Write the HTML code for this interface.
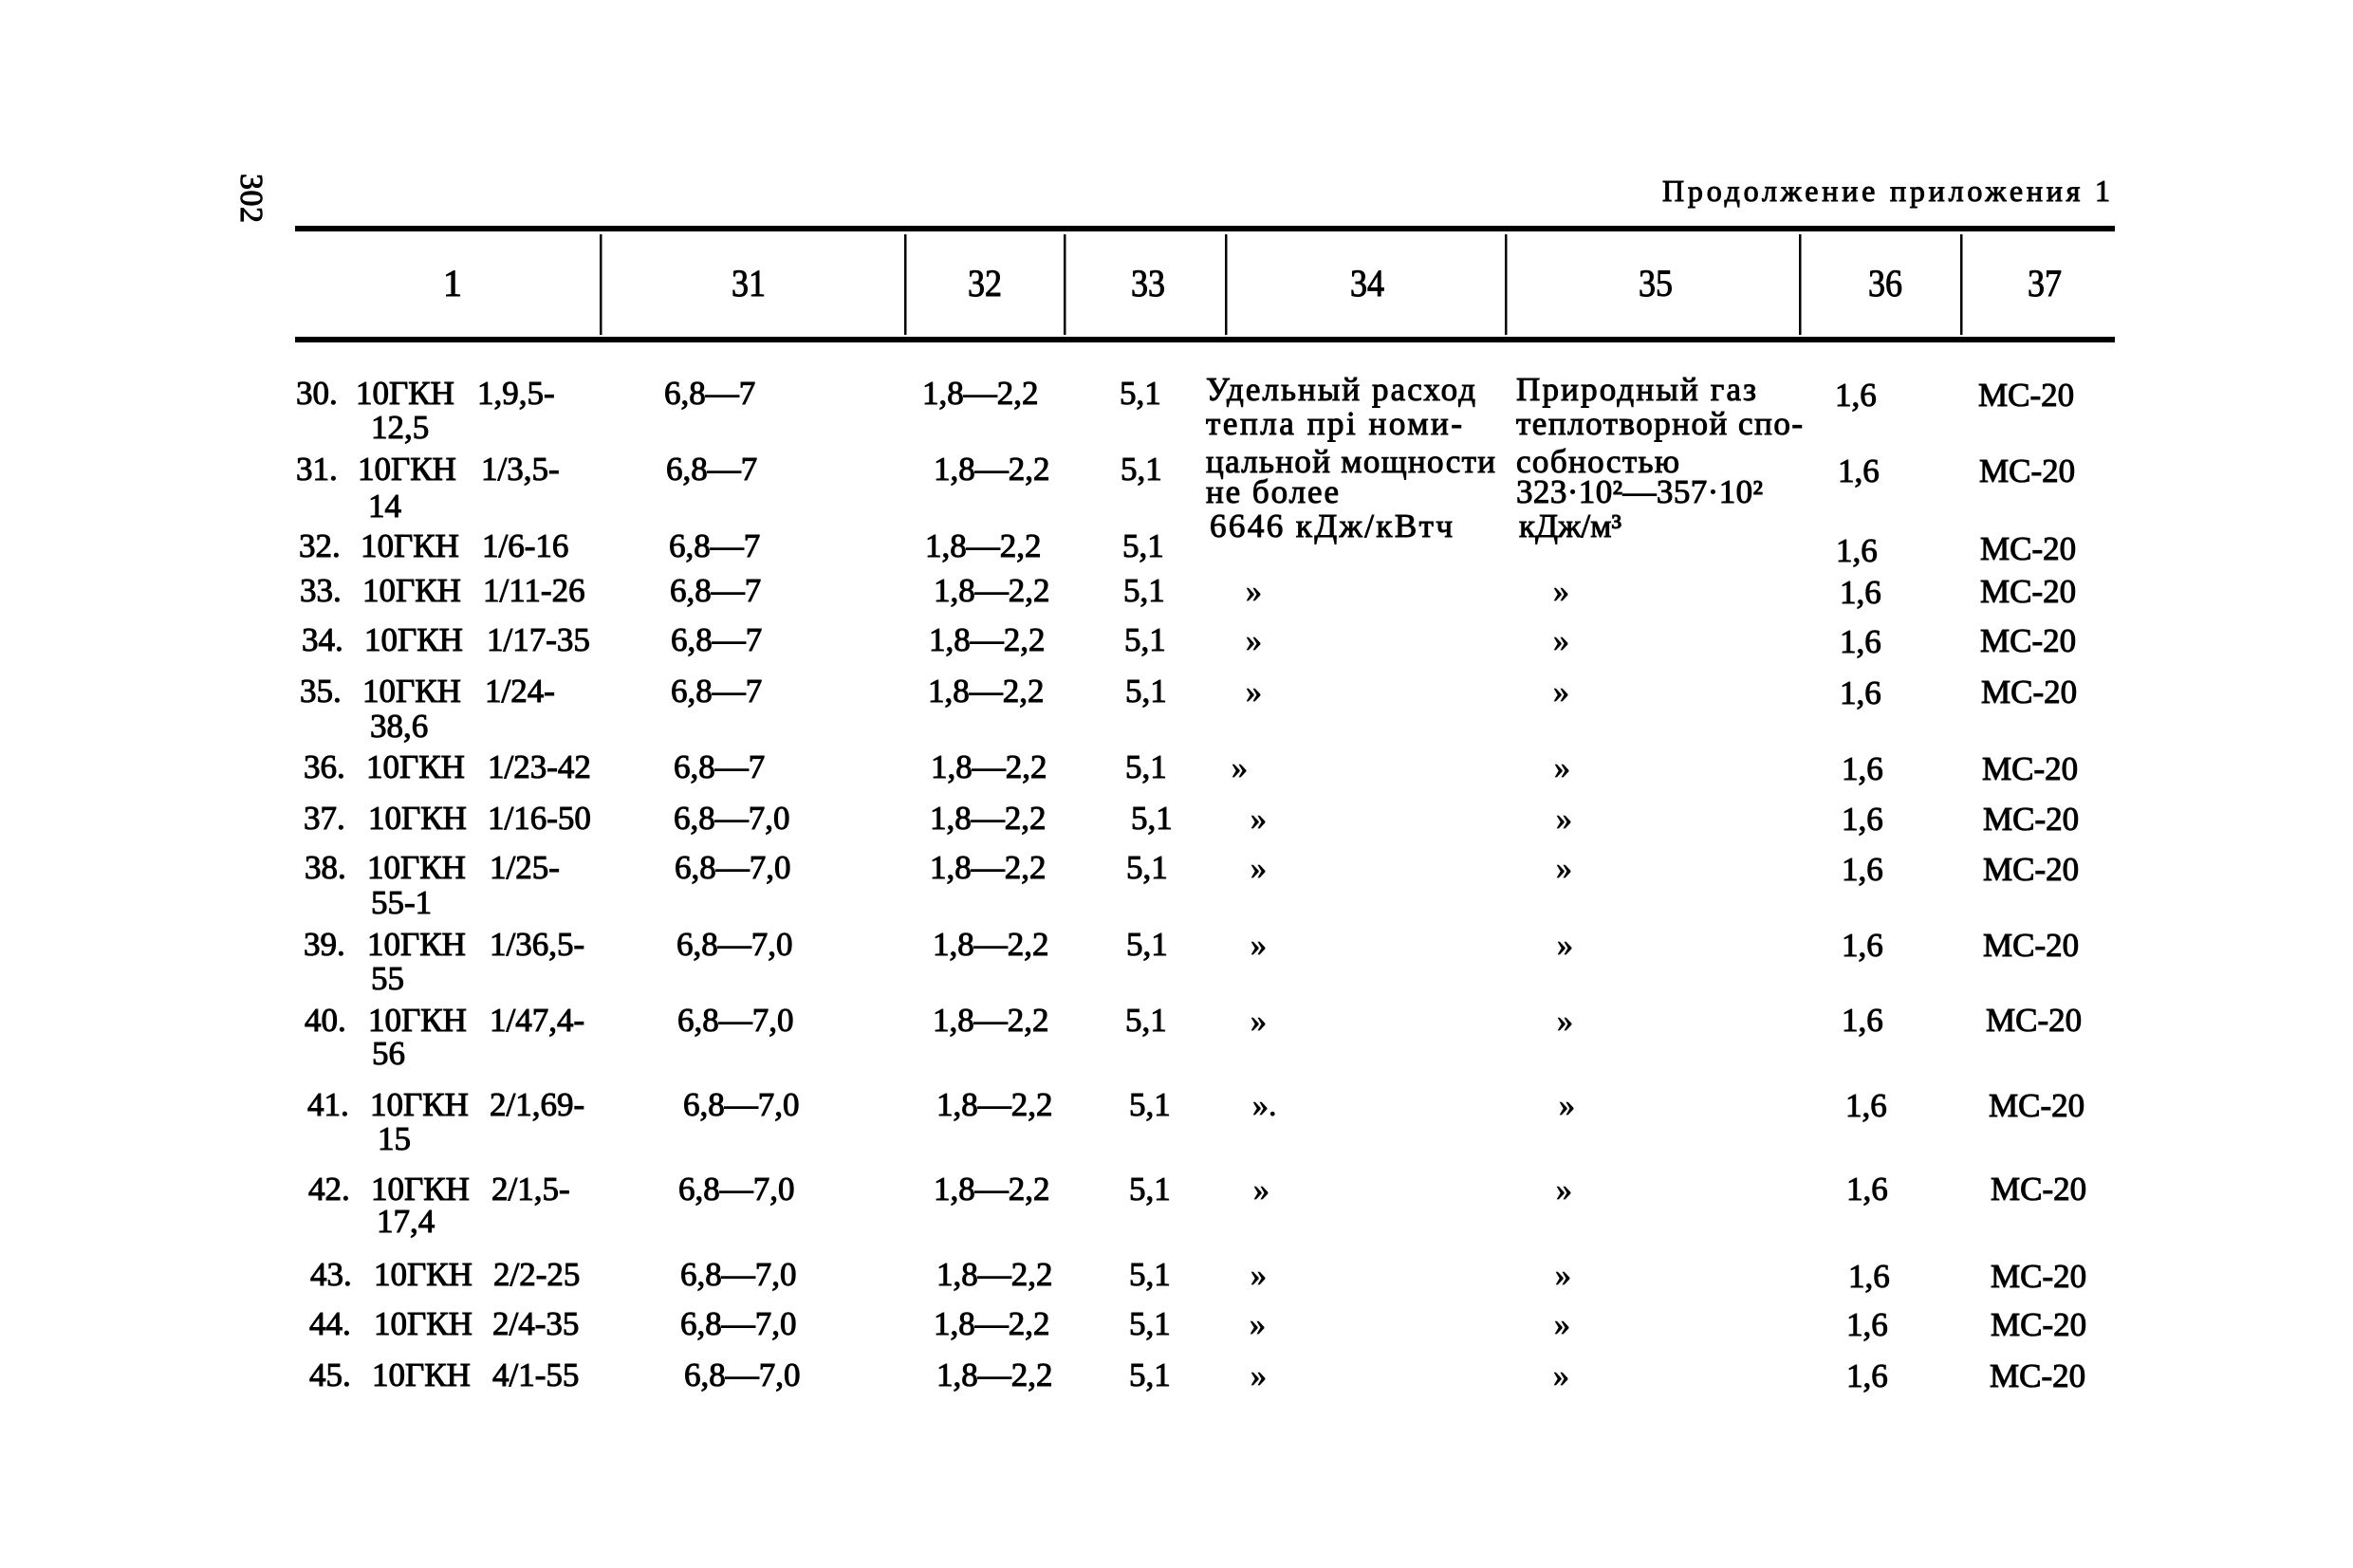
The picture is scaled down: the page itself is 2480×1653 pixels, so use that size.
<!DOCTYPE html>
<html>
<head>
<meta charset="utf-8">
<style>
html,body{margin:0;padding:0;background:#fff;}
svg{display:block;}
text{font-family:"Liberation Serif","DejaVu Serif",serif;fill:#000;}
.b{font-size:35px;stroke:#000;stroke-width:1px;}
.h{font-size:40px;stroke:#000;stroke-width:1px;}
.d{font-size:34px;stroke:#000;stroke-width:0.8px;}
</style>
</head>
<body>
<svg width="2480" height="1653" viewBox="0 0 2480 1653" xmlns="http://www.w3.org/2000/svg">
<rect x="0" y="0" width="2480" height="1653" fill="#fff"/>

<!-- page number rotated -->
<text class="h" transform="translate(254,209) rotate(90)" text-anchor="middle" textLength="52" style="font-size:34px">302</text>

<!-- title -->
<text class="b" x="1752" y="212" textLength="472" style="font-size:32px">Продолжение приложения 1</text>

<!-- rules -->
<rect x="311" y="238" width="1918" height="6" fill="#000"/>
<rect x="311" y="355" width="1918" height="6" fill="#000"/>
<g fill="#000">
<rect x="632" y="247" width="2.5" height="106"/>
<rect x="953" y="247" width="2.5" height="106"/>
<rect x="1121" y="247" width="2.5" height="106"/>
<rect x="1291" y="247" width="2.5" height="106"/>
<rect x="1586" y="247" width="2.5" height="106"/>
<rect x="1896" y="247" width="2.5" height="106"/>
<rect x="2066" y="247" width="2.5" height="106"/>
</g>

<!-- header labels -->
<g text-anchor="middle">
<text class="h" x="477" y="312">1</text>
<text class="h" x="789" y="312" textLength="36" lengthAdjust="spacingAndGlyphs">31</text>
<text class="h" x="1038" y="312" textLength="36" lengthAdjust="spacingAndGlyphs">32</text>
<text class="h" x="1210" y="312" textLength="36" lengthAdjust="spacingAndGlyphs">33</text>
<text class="h" x="1441" y="312" textLength="36" lengthAdjust="spacingAndGlyphs">34</text>
<text class="h" x="1745" y="312" textLength="36" lengthAdjust="spacingAndGlyphs">35</text>
<text class="h" x="1987" y="312" textLength="36" lengthAdjust="spacingAndGlyphs">36</text>
<text class="h" x="2155" y="312" textLength="36" lengthAdjust="spacingAndGlyphs">37</text>
</g>

<!-- column 34 / 35 multiline text -->
<text class="b" x="1271" y="422" textLength="284">Удельный расход</text>
<text class="b" x="1271" y="458" textLength="270">тепла прі номи-</text>
<text class="b" x="1271" y="498" textLength="305">цальной мощности</text>
<text class="b" x="1271" y="530" textLength="140">не более</text>
<text class="b" x="1275" y="566" textLength="256">6646 кДж/кВтч</text>

<text class="b" x="1598" y="422" textLength="253">Природный газ</text>
<text class="b" x="1598" y="458" textLength="302">теплотворной спо-</text>
<text class="b" x="1598" y="498" textLength="172">собностью</text>
<text class="b" x="1598" y="530" textLength="260">323·10²—357·10²</text>
<text class="b" x="1601" y="566" textLength="108">кДж/м³</text>

<!-- rows -->
<g>
<!-- 30 -->
<text class="b" x="312" y="426">30.</text>
<text class="b" x="375" y="426">10ГКН</text>
<text class="b" x="503" y="426">1,9,5-</text>
<text class="b" x="391" y="462">12,5</text>
<text class="b" x="700" y="426">6,8—7</text>
<text class="b" x="972" y="426">1,8—2,2</text>
<text class="b" x="1180" y="426">5,1</text>
<text class="b" x="1934" y="428">1,6</text>
<text class="b" x="2085" y="428">МС-20</text>

<!-- 31 -->
<text class="b" x="312" y="506">31.</text>
<text class="b" x="377" y="506">10ГКН</text>
<text class="b" x="507" y="506">1/3,5-</text>
<text class="b" x="388" y="545">14</text>
<text class="b" x="702" y="506">6,8—7</text>
<text class="b" x="984" y="506">1,8—2,2</text>
<text class="b" x="1181" y="506">5,1</text>
<text class="b" x="1937" y="508">1,6</text>
<text class="b" x="2086" y="508">МС-20</text>

<!-- 32 -->
<text class="b" x="315" y="587">32.</text>
<text class="b" x="380" y="587">10ГКН</text>
<text class="b" x="508" y="587">1/6-16</text>
<text class="b" x="705" y="587">6,8—7</text>
<text class="b" x="975" y="587">1,8—2,2</text>
<text class="b" x="1183" y="587">5,1</text>
<text class="b" x="1935" y="592">1,6</text>
<text class="b" x="2087" y="590">МС-20</text>

<!-- 33 -->
<text class="b" x="316" y="634">33.</text>
<text class="b" x="382" y="634">10ГКН</text>
<text class="b" x="509" y="634">1/11-26</text>
<text class="b" x="706" y="634">6,8—7</text>
<text class="b" x="984" y="634">1,8—2,2</text>
<text class="b" x="1184" y="634">5,1</text>
<text class="d" x="1313" y="634">»</text>
<text class="d" x="1637" y="634">»</text>
<text class="b" x="1939" y="636">1,6</text>
<text class="b" x="2087" y="635">МС-20</text>

<!-- 34 -->
<text class="b" x="318" y="686">34.</text>
<text class="b" x="384" y="686">10ГКН</text>
<text class="b" x="513" y="686">1/17-35</text>
<text class="b" x="707" y="686">6,8—7</text>
<text class="b" x="979" y="686">1,8—2,2</text>
<text class="b" x="1185" y="686">5,1</text>
<text class="d" x="1313" y="686">»</text>
<text class="d" x="1637" y="686">»</text>
<text class="b" x="1939" y="688">1,6</text>
<text class="b" x="2087" y="687">МС-20</text>

<!-- 35 -->
<text class="b" x="316" y="740">35.</text>
<text class="b" x="382" y="740">10ГКН</text>
<text class="b" x="511" y="740">1/24-</text>
<text class="b" x="390" y="777">38,6</text>
<text class="b" x="707" y="740">6,8—7</text>
<text class="b" x="978" y="740">1,8—2,2</text>
<text class="b" x="1186" y="740">5,1</text>
<text class="d" x="1313" y="740">»</text>
<text class="d" x="1637" y="740">»</text>
<text class="b" x="1939" y="742">1,6</text>
<text class="b" x="2088" y="741">МС-20</text>

<!-- 36 -->
<text class="b" x="320" y="820">36.</text>
<text class="b" x="386" y="820">10ГКН</text>
<text class="b" x="514" y="820">1/23-42</text>
<text class="b" x="710" y="820">6,8—7</text>
<text class="b" x="981" y="820">1,8—2,2</text>
<text class="b" x="1186" y="820">5,1</text>
<text class="d" x="1298" y="820">»</text>
<text class="d" x="1638" y="820">»</text>
<text class="b" x="1941" y="822">1,6</text>
<text class="b" x="2089" y="822">МС-20</text>

<!-- 37 -->
<text class="b" x="320" y="874">37.</text>
<text class="b" x="388" y="874">10ГКН</text>
<text class="b" x="514" y="874">1/16-50</text>
<text class="b" x="710" y="874">6,8—7,0</text>
<text class="b" x="980" y="874">1,8—2,2</text>
<text class="b" x="1192" y="874">5,1</text>
<text class="d" x="1318" y="874">»</text>
<text class="d" x="1640" y="874">»</text>
<text class="b" x="1941" y="875">1,6</text>
<text class="b" x="2090" y="875">МС-20</text>

<!-- 38 -->
<text class="b" x="321" y="926">38.</text>
<text class="b" x="387" y="926">10ГКН</text>
<text class="b" x="516" y="926">1/25-</text>
<text class="b" x="391" y="963">55-1</text>
<text class="b" x="711" y="926">6,8—7,0</text>
<text class="b" x="980" y="926">1,8—2,2</text>
<text class="b" x="1187" y="926">5,1</text>
<text class="d" x="1318" y="926">»</text>
<text class="d" x="1640" y="926">»</text>
<text class="b" x="1941" y="928">1,6</text>
<text class="b" x="2090" y="928">МС-20</text>

<!-- 39 -->
<text class="b" x="320" y="1007">39.</text>
<text class="b" x="387" y="1007">10ГКН</text>
<text class="b" x="516" y="1007">1/36,5-</text>
<text class="b" x="391" y="1043">55</text>
<text class="b" x="713" y="1007">6,8—7,0</text>
<text class="b" x="983" y="1007">1,8—2,2</text>
<text class="b" x="1187" y="1007">5,1</text>
<text class="d" x="1318" y="1007">»</text>
<text class="d" x="1641" y="1007">»</text>
<text class="b" x="1941" y="1008">1,6</text>
<text class="b" x="2090" y="1008">МС-20</text>

<!-- 40 -->
<text class="b" x="321" y="1087">40.</text>
<text class="b" x="388" y="1087">10ГКН</text>
<text class="b" x="516" y="1087">1/47,4-</text>
<text class="b" x="392" y="1122">56</text>
<text class="b" x="714" y="1087">6,8—7,0</text>
<text class="b" x="983" y="1087">1,8—2,2</text>
<text class="b" x="1186" y="1087">5,1</text>
<text class="d" x="1318" y="1087">»</text>
<text class="d" x="1641" y="1087">»</text>
<text class="b" x="1941" y="1087">1,6</text>
<text class="b" x="2093" y="1087">МС-20</text>

<!-- 41 -->
<text class="b" x="324" y="1176">41.</text>
<text class="b" x="390" y="1176">10ГКН</text>
<text class="b" x="516" y="1176">2/1,69-</text>
<text class="b" x="398" y="1212">15</text>
<text class="b" x="720" y="1176">6,8—7,0</text>
<text class="b" x="987" y="1176">1,8—2,2</text>
<text class="b" x="1190" y="1176">5,1</text>
<text class="d" x="1320" y="1176">».</text>
<text class="d" x="1643" y="1176">»</text>
<text class="b" x="1945" y="1177">1,6</text>
<text class="b" x="2096" y="1177">МС-20</text>

<!-- 42 -->
<text class="b" x="325" y="1265">42.</text>
<text class="b" x="391" y="1265">10ГКН</text>
<text class="b" x="518" y="1265">2/1,5-</text>
<text class="b" x="397" y="1299">17,4</text>
<text class="b" x="715" y="1265">6,8—7,0</text>
<text class="b" x="984" y="1265">1,8—2,2</text>
<text class="b" x="1190" y="1265">5,1</text>
<text class="d" x="1321" y="1265">»</text>
<text class="d" x="1640" y="1265">»</text>
<text class="b" x="1946" y="1265">1,6</text>
<text class="b" x="2098" y="1265">МС-20</text>

<!-- 43 -->
<text class="b" x="327" y="1355">43.</text>
<text class="b" x="394" y="1355">10ГКН</text>
<text class="b" x="520" y="1355">2/2-25</text>
<text class="b" x="717" y="1355">6,8—7,0</text>
<text class="b" x="987" y="1355">1,8—2,2</text>
<text class="b" x="1190" y="1355">5,1</text>
<text class="d" x="1318" y="1355">»</text>
<text class="d" x="1639" y="1355">»</text>
<text class="b" x="1948" y="1357">1,6</text>
<text class="b" x="2098" y="1357">МС-20</text>

<!-- 44 -->
<text class="b" x="326" y="1407">44.</text>
<text class="b" x="394" y="1407">10ГКН</text>
<text class="b" x="519" y="1407">2/4-35</text>
<text class="b" x="717" y="1407">6,8—7,0</text>
<text class="b" x="984" y="1407">1,8—2,2</text>
<text class="b" x="1190" y="1407">5,1</text>
<text class="d" x="1317" y="1407">»</text>
<text class="d" x="1638" y="1407">»</text>
<text class="b" x="1946" y="1408">1,6</text>
<text class="b" x="2098" y="1408">МС-20</text>

<!-- 45 -->
<text class="b" x="326" y="1461">45.</text>
<text class="b" x="392" y="1461">10ГКН</text>
<text class="b" x="519" y="1461">4/1-55</text>
<text class="b" x="721" y="1461">6,8—7,0</text>
<text class="b" x="987" y="1461">1,8—2,2</text>
<text class="b" x="1190" y="1461">5,1</text>
<text class="d" x="1318" y="1461">»</text>
<text class="d" x="1637" y="1461">»</text>
<text class="b" x="1946" y="1462">1,6</text>
<text class="b" x="2097" y="1462">МС-20</text>
</g>
</svg>
</body>
</html>
